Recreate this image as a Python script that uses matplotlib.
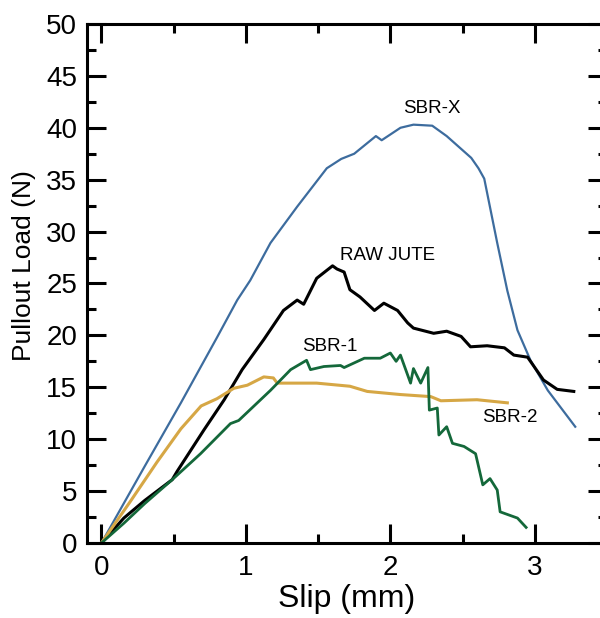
import numpy as np
import matplotlib.pyplot as plt

plt.rcParams['font.family'] = ['Liberation Sans', 'DejaVu Sans']

# SBR-X
x_sbrx = [0, 0.3, 0.55, 0.80, 0.94, 1.03, 1.17, 1.355, 1.56, 1.66, 1.75, 1.90, 1.94,
          2.07, 2.16, 2.29, 2.39, 2.56, 2.61, 2.65, 2.74, 2.81, 2.88, 2.97, 3.09, 3.28]
y_sbrx = [0, 7.4, 13.5, 19.8, 23.4, 25.3, 28.9, 32.4, 36.1, 37.0, 37.5, 39.2, 38.8,
          40.0, 40.3, 40.2, 39.2, 37.1, 36.1, 35.1, 28.9, 24.3, 20.5, 17.6, 14.7, 11.2]

# RAW JUTE
x_jute = [0, 0.155, 0.3, 0.49, 0.524, 0.71, 0.85, 0.974, 1.124, 1.26, 1.355, 1.40, 1.49,
          1.60, 1.63, 1.68, 1.72, 1.79, 1.89, 1.955, 2.05, 2.12, 2.16, 2.30, 2.39, 2.49,
          2.555, 2.67, 2.79, 2.855, 2.95, 3.06, 3.155, 3.27]
y_jute = [0, 2.4, 4.1, 6.1, 6.9, 10.9, 13.8, 16.7, 19.6, 22.4, 23.4, 23.0, 25.5,
          26.7, 26.4, 26.1, 24.4, 23.7, 22.4, 23.1, 22.4, 21.2, 20.7, 20.2, 20.4, 19.9,
          18.9, 19.0, 18.8, 18.1, 17.9, 15.7, 14.8, 14.6]

# SBR-1
x_sbr1 = [0, 0.155, 0.3, 0.49, 0.686, 0.893, 0.95, 1.17, 1.31, 1.42, 1.447, 1.54, 1.655, 1.68,
          1.82, 1.93, 2.0, 2.04, 2.07, 2.14, 2.16, 2.21, 2.26, 2.27, 2.325, 2.336, 2.39,
          2.43, 2.51, 2.59, 2.64, 2.69, 2.74, 2.76, 2.88, 2.94]
y_sbr1 = [0, 1.9, 3.8, 6.1, 8.6, 11.5, 11.8, 14.7, 16.7, 17.6, 16.7, 17.0, 17.1, 16.9,
          17.8, 17.8, 18.3, 17.5, 18.1, 15.4, 16.8, 15.4, 16.9, 12.8, 13.0, 10.4, 11.2,
          9.6, 9.3, 8.6, 5.6, 6.2, 5.1, 3.0, 2.4, 1.5]

# SBR-2
x_sbr2 = [0, 0.2, 0.385, 0.55, 0.69, 0.80, 0.916, 1.01, 1.124, 1.19, 1.217, 1.49, 1.72,
          1.84, 2.07, 2.28, 2.35, 2.60, 2.81]
y_sbr2 = [0, 4.0, 7.8, 11.0, 13.2, 13.9, 14.9, 15.2, 16.0, 15.9, 15.4, 15.4, 15.1,
          14.6, 14.3, 14.1, 13.7, 13.8, 13.5]

fig = plt.figure(figsize=(6, 6.18), dpi=100)
ax = fig.add_axes([0.145, 0.1214, 0.8667, 0.8398])

ax.plot(x_sbrx, y_sbrx, color='#3d6c9e', lw=1.6)
ax.plot(x_jute, y_jute, color='black', lw=2.2)
ax.plot(x_sbr2, y_sbr2, color='#d6a745', lw=2.2)
ax.plot(x_sbr1, y_sbr1, color='#14683a', lw=2.0)

ax.text(2.29, 41.9, 'SBR-X', fontsize=13.5, ha='center', va='center')
ax.text(1.98, 27.7, 'RAW JUTE', fontsize=13.5, ha='center', va='center')
ax.text(1.58, 18.9, 'SBR-1', fontsize=13.5, ha='center', va='center')
ax.text(2.83, 12.1, 'SBR-2', fontsize=13.5, ha='center', va='center')

ax.set_xlim(-0.1, 3.5)
ax.set_ylim(0, 50)
ax.set_xticks([0, 1, 2, 3])
ax.set_xticks(np.arange(0, 3.6, 0.5), minor=True)
ax.set_yticks(np.arange(0, 51, 5))
ax.set_yticks(np.arange(0, 51, 2.5), minor=True)
ax.tick_params(which='both', direction='in', top=True, right=True, width=2.2, labelsize=20)
ax.tick_params(which='major', length=13.5)
ax.tick_params(which='minor', length=6.5)
ax.tick_params(axis='x', pad=9)
ax.tick_params(axis='y', pad=7)
for s in ax.spines.values():
    s.set_linewidth(2.2)

ax.set_xlabel('Slip (mm)', fontsize=23, labelpad=2)
ax.set_ylabel('Pullout Load (N)', fontsize=19)
ax.yaxis.set_label_coords(-0.098, 0.534)

fig.savefig('out.png', dpi=100)
